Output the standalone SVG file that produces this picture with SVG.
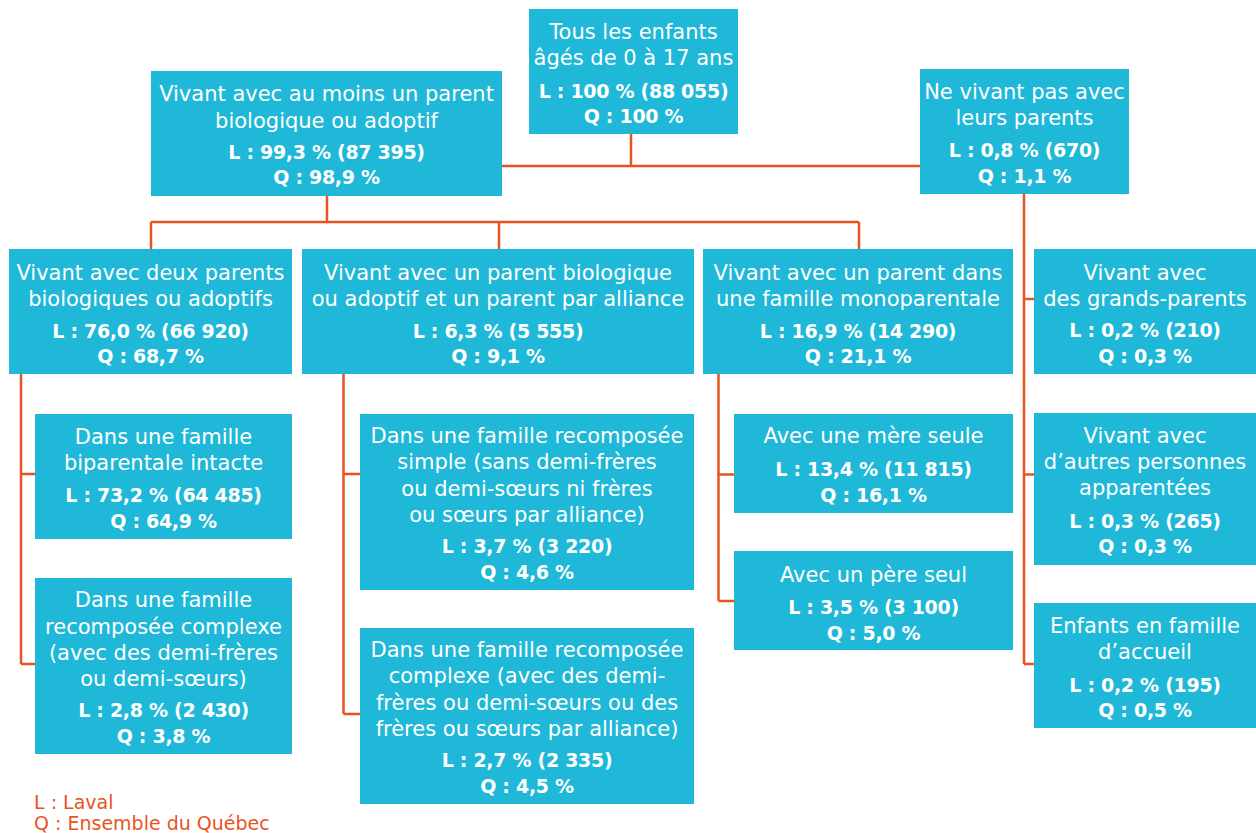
<svg xmlns="http://www.w3.org/2000/svg" width="1256" height="833" viewBox="0 0 1256 833">
<style>
.box{fill:#20B8D8}
.t{font-family:"DejaVu Sans",sans-serif;font-size:21px;fill:#fff;text-anchor:middle}
.b{font-family:"DejaVu Sans",sans-serif;font-size:19px;font-weight:bold;fill:#fff;text-anchor:middle;letter-spacing:-0.3px}
.ln{fill:none;stroke:#E8541E;stroke-width:2.5}
.lg{font-family:"DejaVu Sans",sans-serif;font-size:19px;fill:#E8541E}
</style>
<rect width="1256" height="833" fill="#fff"/>
<g id="connectors">
<path class="ln" d="M631 134V166M502 166H920"/>
<path class="ln" d="M327 196V222M151 222H859M151 222V249M499 222V249M859 222V249"/>
<path class="ln" d="M1024 194V664M1024 299H1034M1024 474.5H1034M1024 664H1034"/>
<path class="ln" d="M21 374V664M21 474H35M21 664H35"/>
<path class="ln" d="M343.5 374V714M343.5 474H360M343.5 714H360"/>
<path class="ln" d="M718.5 374V601M718.5 474.5H734M718.5 601H734"/>
</g>
<g id="n-all"><rect class="box" x="529" y="9" width="209" height="125"/>
<text class="t" x="633.5" y="39">Tous les enfants</text><text class="t" x="633.5" y="65">âgés de 0 à 17 ans</text>
<text class="b" x="633.5" y="98">L : 100 % (88 055)</text><text class="b" x="633.5" y="123">Q : 100 %</text></g>
<g id="n-with"><rect class="box" x="151" y="71" width="351" height="125"/>
<text class="t" x="326.5" y="101">Vivant avec au moins un parent</text><text class="t" x="326.5" y="128">biologique ou adoptif</text>
<text class="b" x="326.5" y="159">L : 99,3 % (87 395)</text><text class="b" x="326.5" y="184">Q : 98,9 %</text></g>
<g id="n-without"><rect class="box" x="920" y="69" width="209" height="125"/>
<text class="t" x="1024.5" y="99">Ne vivant pas avec</text><text class="t" x="1024.5" y="125">leurs parents</text>
<text class="b" x="1024.5" y="157">L : 0,8 % (670)</text><text class="b" x="1024.5" y="183">Q : 1,1 %</text></g>
<g id="n-two"><rect class="box" x="9" y="249" width="283" height="125"/>
<text class="t" x="150.5" y="280">Vivant avec deux parents</text><text class="t" x="150.5" y="306">biologiques ou adoptifs</text>
<text class="b" x="150.5" y="338">L : 76,0 % (66 920)</text><text class="b" x="150.5" y="363">Q : 68,7 %</text></g>
<g id="n-step"><rect class="box" x="302" y="249" width="392" height="125"/>
<text class="t" x="498" y="280">Vivant avec un parent biologique</text><text class="t" x="498" y="306">ou adoptif et un parent par alliance</text>
<text class="b" x="498" y="338">L : 6,3 % (5 555)</text><text class="b" x="498" y="363">Q : 9,1 %</text></g>
<g id="n-mono"><rect class="box" x="703" y="249" width="310" height="125"/>
<text class="t" x="858" y="280">Vivant avec un parent dans</text><text class="t" x="858" y="306">une famille monoparentale</text>
<text class="b" x="858" y="338">L : 16,9 % (14 290)</text><text class="b" x="858" y="363">Q : 21,1 %</text></g>
<g id="n-grand"><rect class="box" x="1034" y="249" width="222" height="125"/>
<text class="t" x="1145" y="280">Vivant avec</text><text class="t" x="1145" y="306">des grands-parents</text>
<text class="b" x="1145" y="337">L : 0,2 % (210)</text><text class="b" x="1145" y="363">Q : 0,3 %</text></g>
<g id="n-intact"><rect class="box" x="35" y="414" width="257" height="125"/>
<text class="t" x="163.5" y="444">Dans une famille</text><text class="t" x="163.5" y="470">biparentale intacte</text>
<text class="b" x="163.5" y="502">L : 73,2 % (64 485)</text><text class="b" x="163.5" y="528">Q : 64,9 %</text></g>
<g id="n-complex2"><rect class="box" x="35" y="578" width="257" height="176"/>
<text class="t" x="163.5" y="607">Dans une famille</text><text class="t" x="163.5" y="634">recomposée complexe</text>
<text class="t" x="163.5" y="660">(avec des demi-frères</text><text class="t" x="163.5" y="686">ou demi-sœurs)</text>
<text class="b" x="163.5" y="717">L : 2,8 % (2 430)</text><text class="b" x="163.5" y="743">Q : 3,8 %</text></g>
<g id="n-simple"><rect class="box" x="360" y="414" width="334" height="176"/>
<text class="t" x="527" y="443">Dans une famille recomposée</text><text class="t" x="527" y="469">simple (sans demi-frères</text>
<text class="t" x="527" y="496">ou demi-sœurs ni frères</text><text class="t" x="527" y="522">ou sœurs par alliance)</text>
<text class="b" x="527" y="553">L : 3,7 % (3 220)</text><text class="b" x="527" y="579">Q : 4,6 %</text></g>
<g id="n-complex"><rect class="box" x="360" y="628" width="334" height="176"/>
<text class="t" x="527" y="657">Dans une famille recomposée</text><text class="t" x="527" y="683">complexe (avec des demi-</text>
<text class="t" x="527" y="710">frères ou demi-sœurs ou des</text><text class="t" x="527" y="736">frères ou sœurs par alliance)</text>
<text class="b" x="527" y="767">L : 2,7 % (2 335)</text><text class="b" x="527" y="793">Q : 4,5 %</text></g>
<g id="n-mother"><rect class="box" x="734" y="414" width="279" height="99"/>
<text class="t" x="873.5" y="443">Avec une mère seule</text>
<text class="b" x="873.5" y="476">L : 13,4 % (11 815)</text><text class="b" x="873.5" y="502">Q : 16,1 %</text></g>
<g id="n-father"><rect class="box" x="734" y="551" width="279" height="99"/>
<text class="t" x="873.5" y="582">Avec un père seul</text>
<text class="b" x="873.5" y="614">L : 3,5 % (3 100)</text><text class="b" x="873.5" y="640">Q : 5,0 %</text></g>
<g id="n-other"><rect class="box" x="1034" y="413" width="222" height="152"/>
<text class="t" x="1145" y="443">Vivant avec</text><text class="t" x="1145" y="469">d’autres personnes</text><text class="t" x="1145" y="495">apparentées</text>
<text class="b" x="1145" y="528">L : 0,3 % (265)</text><text class="b" x="1145" y="553">Q : 0,3 %</text></g>
<g id="n-foster"><rect class="box" x="1034" y="603" width="222" height="125"/>
<text class="t" x="1145" y="633">Enfants en famille</text><text class="t" x="1145" y="659">d’accueil</text>
<text class="b" x="1145" y="692">L : 0,2 % (195)</text><text class="b" x="1145" y="717">Q : 0,5 %</text></g>
<g id="legend">
<text class="lg" x="34" y="809">L : Laval</text>
<text class="lg" x="34" y="830">Q : Ensemble du Québec</text>
</g>
</svg>
